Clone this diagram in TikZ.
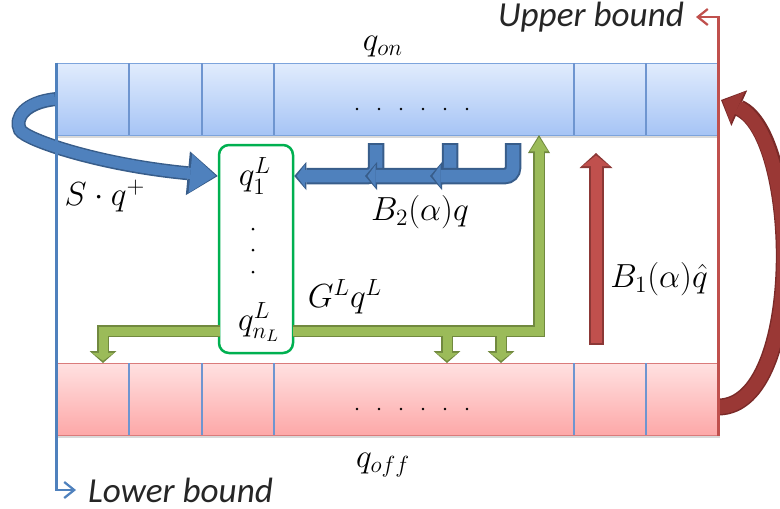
\RequirePackage{fix-cm}
\documentclass[tikz,border=0pt]{standalone}
\usepackage{fontspec}
\newfontfamily\boundfont{Carlito}
\usepackage{tikz}
\usetikzlibrary{arrows.meta,shadows}

\definecolor{onTop}{HTML}{E1ECFD}
\definecolor{onBot}{HTML}{A6C4F5}
\definecolor{onLine}{HTML}{7DA4DC}
\definecolor{offTop}{HTML}{FFE1E1}
\definecolor{offBot}{HTML}{FDA8A8}
\definecolor{offLine}{HTML}{DA7B7B}
\definecolor{cellLine}{HTML}{6E95D0}
\definecolor{bFill}{HTML}{4F81BD}
\definecolor{bLine}{HTML}{385D8A}
\definecolor{gFill}{HTML}{9BBB59}
\definecolor{gLine}{HTML}{71893F}
\definecolor{rFill}{HTML}{C0504D}
\definecolor{rLine}{HTML}{8C3836}
\definecolor{rDeep}{HTML}{9A3835}
\definecolor{rDeepLine}{HTML}{7A2A28}
\definecolor{boxGreen}{HTML}{00B050}

\begin{document}
\begin{tikzpicture}[
  x=0.2mm, y=-0.2mm,
  font=\fontsize{19}{23}\selectfont,
  arr/.style={rectangle, inner sep=0pt, minimum width=132.2mm,
    minimum height=14.4mm, line width=0.2mm,
    drop shadow={shadow xshift=0.3mm, shadow yshift=-0.6mm, opacity=0.3}},
  onarr/.style={arr, draw=onLine, top color=onTop, bottom color=onBot},
  offarr/.style={arr, draw=offLine, top color=offTop, bottom color=offBot},
  cell/.style={draw=cellLine, line width=0.25mm},
  lvec/.style={rectangle, draw=boxGreen, line width=0.5mm,
    rounded corners=2mm, minimum width=14.8mm, minimum height=41.6mm,
    fill=white},
  lbl/.style={inner sep=1pt},
  bound/.style={line width=0.45mm,
    -{Straight Barb[length=2mm, width=3.2mm]}},
  boundtext/.style={text=black!85, inner sep=1pt,
    font={\boundfont\fontsize{20}{24}\selectfont\itshape}},
  fat/.style n args={4}{draw=#1, line width=#2,
    -{Triangle[length=#3, width=#4, line width=0pt]}}
]
\useasboundingbox (0,0) rectangle (780,508);

% ── Arrays ──
\node[onarr]  (on)  at (387.5,99)  {};
\node[offarr] (off) at (387.5,399) {};
\foreach \cx in {129,202,274,574,646} {
  \draw[cell] (\cx,63) -- (\cx,135);
  \draw[cell] (\cx,363) -- (\cx,435);
}
\foreach \dx in {357,379,...,467} {
  \fill (\dx,109) circle (0.28mm);
  \fill (\dx,409) circle (0.28mm);
}
\node[lbl] (qon)  at (383,47)  {$q_{on}$};
\node[lbl] (qoff) at (383,465) {$q_{off}$};

% ── Local vector ──
\node[lvec] (lb) at (256,249) {};
\node[lbl] (q1) at (255,176) {$q^L_1$};
\node[lbl] (qn) at (259,322) {$q^L_{n_L}$};
\foreach \dy in {229,250,272}
  \fill (253,\dy) circle (0.3mm);

% ── S q^+ : top array -> local vector ──
\coordinate (sbend) at (20,130);
\coordinate (send) at (lb.west |- q1);
\draw[fat={bLine}{2.8mm}{6mm}{8.8mm}]
  (on.west) .. controls (25,102) and (14,118) .. (sbend)
  .. controls (26,140) and (100,165) .. (send);
\draw[fat={bFill}{2.2mm}{5.1mm}{7.8mm}, shorten >=0.4mm, shorten <=0.3mm]
  (on.west) .. controls (25,102) and (14,118) .. (sbend)
  .. controls (26,140) and (100,165) .. (send);

% ── B_2 q : three bent arrows into the local vector ──
\coordinate (b2a) at (376,143);
\coordinate (b2b) at (450,143);
\coordinate (b2c) at (513,143);
\coordinate (b2aend) at (lb.east |- q1);
\coordinate (b2bend) at (365,176);
\coordinate (b2cend) at (430,176);
\foreach \st/\en in {b2a/b2aend, b2b/b2bend, b2c/b2cend} {
  \draw[fat={bLine}{3.3mm}{2.4mm}{5.6mm}, rounded corners=1.6mm]
    (\st) |- (\en);
  \draw[fat={bFill}{2.5mm}{1.6mm}{4.4mm}, rounded corners=1.6mm,
    shorten >=0.5mm, shorten <=0.4mm] (\st) |- (\en);
}

% ── G^L q^L : local vector -> both arrays ──
\coordinate (gw)  at (220,331);
\coordinate (ge)  at (293,331);
\coordinate (gj1) at (447,331);
\coordinate (gj2) at (501,331);
\coordinate (gd1) at (103,363);
\coordinate (gd2) at (447,363);
\coordinate (gd3) at (501,363);
\coordinate (gup) at (539,135);
\foreach \lc/\lw/\tl/\tw/\ul/\uw/\sh in
  {gLine/2.4mm/2.4mm/5.4mm/3.6mm/4.4mm/0mm,
   gFill/1.8mm/1.6mm/4.4mm/2.8mm/3.6mm/0.45mm} {
  \draw[fat={\lc}{\lw}{\tl}{\tw}, shorten >=\sh] (gw) -| (gd1);
  \draw[fat={\lc}{\lw}{\tl}{\tw}, shorten >=\sh] (gj1) -- (gd2);
  \draw[fat={\lc}{\lw}{\tl}{\tw}, shorten >=\sh] (gj2) -- (gd3);
  \draw[fat={\lc}{\lw}{\ul}{\uw}, shorten >=\sh] (ge) -| (gup);
}

% ── B_1 q-hat : bottom array -> top array ──
\coordinate (b1s) at (596,345);
\coordinate (b1e) at (596,153);
\draw[fat={rLine}{3mm}{3mm}{6.6mm}] (b1s) -- (b1e);
\draw[fat={rFill}{2.2mm}{2.1mm}{5.4mm}, shorten >=0.5mm, shorten <=0.4mm]
  (b1s) -- (b1e);

% ── Red loop on the right ──
\coordinate (rc1) at (719,407);
\coordinate (rc2) at (721,100);
\draw[fat={rDeepLine}{3.4mm}{4mm}{7.8mm}]
  (rc1) .. controls (805,405) and (800,135) .. (rc2);
\draw[fat={rDeep}{2.8mm}{3.3mm}{6.9mm}, shorten >=0.35mm]
  (rc1) .. controls (805,405) and (800,135) .. (rc2);

% ── Labels ──
\node[lbl] (sq)  at (105,196) {$S\cdot q^{+}$};
\node[lbl] (b2l) at (420,212) {$B_2(\alpha)q$};
\node[lbl] (gl)  at (345,297) {$G^Lq^L$};
\node[lbl] (b1l) at (659,279) {$B_1(\alpha)\hat{q}$};

% ── Bounds ──
\node[boundtext, anchor=east] (upper) at (686,17)  {Upper bound};
\node[boundtext, anchor=west] (lower) at (86,490)  {Lower bound};
\draw[bound, draw=bFill, shorten >=2mm] (on.north west) |- (lower.west);
\draw[bound, draw=rFill, shorten >=2mm] (off.south east) |- (upper.east);

\end{tikzpicture}
\end{document}
